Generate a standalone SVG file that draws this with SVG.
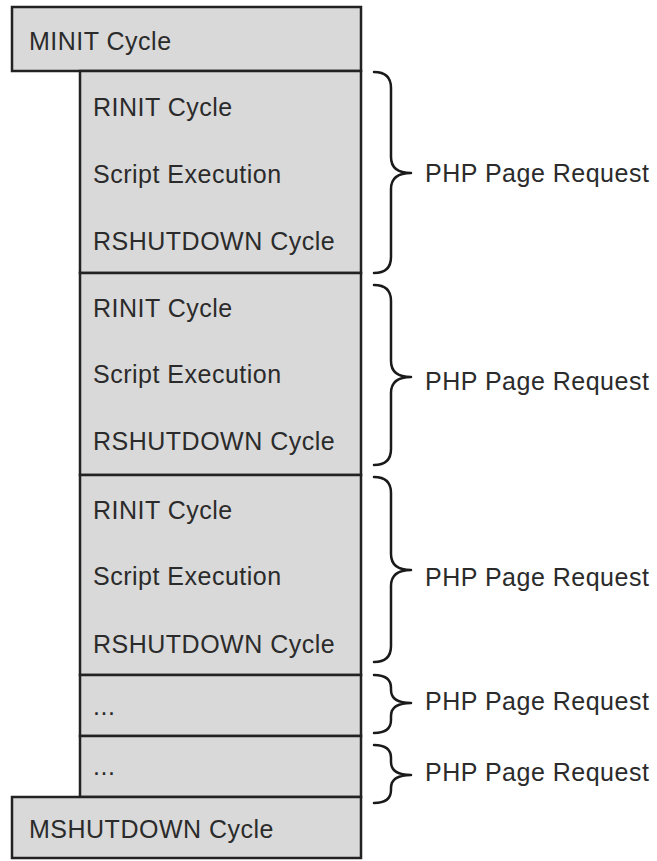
<svg xmlns="http://www.w3.org/2000/svg" width="657" height="861" viewBox="0 0 657 861">
<style>
.box{fill:#d9d9d9;stroke:#222;stroke-width:2.5}
.t{font-family:"Liberation Sans",Arial,sans-serif;font-size:25px;letter-spacing:0.5px;fill:#2b2b2b}
.br{fill:none;stroke:#1a1a1a;stroke-width:2.5;stroke-linecap:round;stroke-linejoin:round}
</style>
<rect width="657" height="861" fill="#ffffff"/>
<g id="minit">
<rect class="box" x="12" y="7" width="349" height="64"/>
<text class="t" x="29" y="50">MINIT Cycle</text>
</g>
<g id="request1">
<rect class="box" x="80" y="71" width="281" height="202"/>
<text class="t" x="93" y="116">RINIT Cycle</text>
<text class="t" x="93" y="183">Script Execution</text>
<text class="t" x="93" y="250">RSHUTDOWN Cycle</text>
</g>
<g id="request2">
<rect class="box" x="80" y="273" width="281" height="202"/>
<text class="t" x="93" y="317">RINIT Cycle</text>
<text class="t" x="93" y="383">Script Execution</text>
<text class="t" x="93" y="450">RSHUTDOWN Cycle</text>
</g>
<g id="request3">
<rect class="box" x="80" y="475" width="281" height="200"/>
<text class="t" x="93" y="519">RINIT Cycle</text>
<text class="t" x="93" y="585">Script Execution</text>
<text class="t" x="93" y="653">RSHUTDOWN Cycle</text>
</g>
<g id="request4">
<rect class="box" x="80" y="675" width="281" height="61"/>
<text class="t" x="93" y="715">...</text>
</g>
<g id="request5">
<rect class="box" x="80" y="736" width="281" height="61"/>
<text class="t" x="93" y="775">...</text>
</g>
<g id="mshutdown">
<rect class="box" x="12" y="797" width="349" height="61"/>
<text class="t" x="29" y="838">MSHUTDOWN Cycle</text>
</g>
<g id="connectors">
<path class="br" d="M374,72 Q391,72 391,88 L391,157 Q391,173 411,173 Q391,173 391,189 L391,257 Q391,273 374,273"/>
<path class="br" d="M374,285 Q391,285 391,301 L391,361 Q391,377 411,377 Q391,377 391,393 L391,449 Q391,465 374,465"/>
<path class="br" d="M374,477 Q391,477 391,493 L391,554 Q391,570 411,570 Q391,570 391,586 L391,646 Q391,662 374,662"/>
<path class="br" d="M374,675 Q391,675 391,688 L391,690 Q391,703 411,703 Q391,703 391,716 L391,720 Q391,733 374,733"/>
<path class="br" d="M374,745 Q391,745 391,758 L391,762 Q391,775 411,775 Q391,775 391,788 L391,790 Q391,803 374,803"/>
</g>
<g id="labels">
<text class="t" x="425" y="182">PHP Page Request</text>
<text class="t" x="425" y="390">PHP Page Request</text>
<text class="t" x="425" y="586">PHP Page Request</text>
<text class="t" x="425" y="710">PHP Page Request</text>
<text class="t" x="425" y="781">PHP Page Request</text>
</g>
</svg>
